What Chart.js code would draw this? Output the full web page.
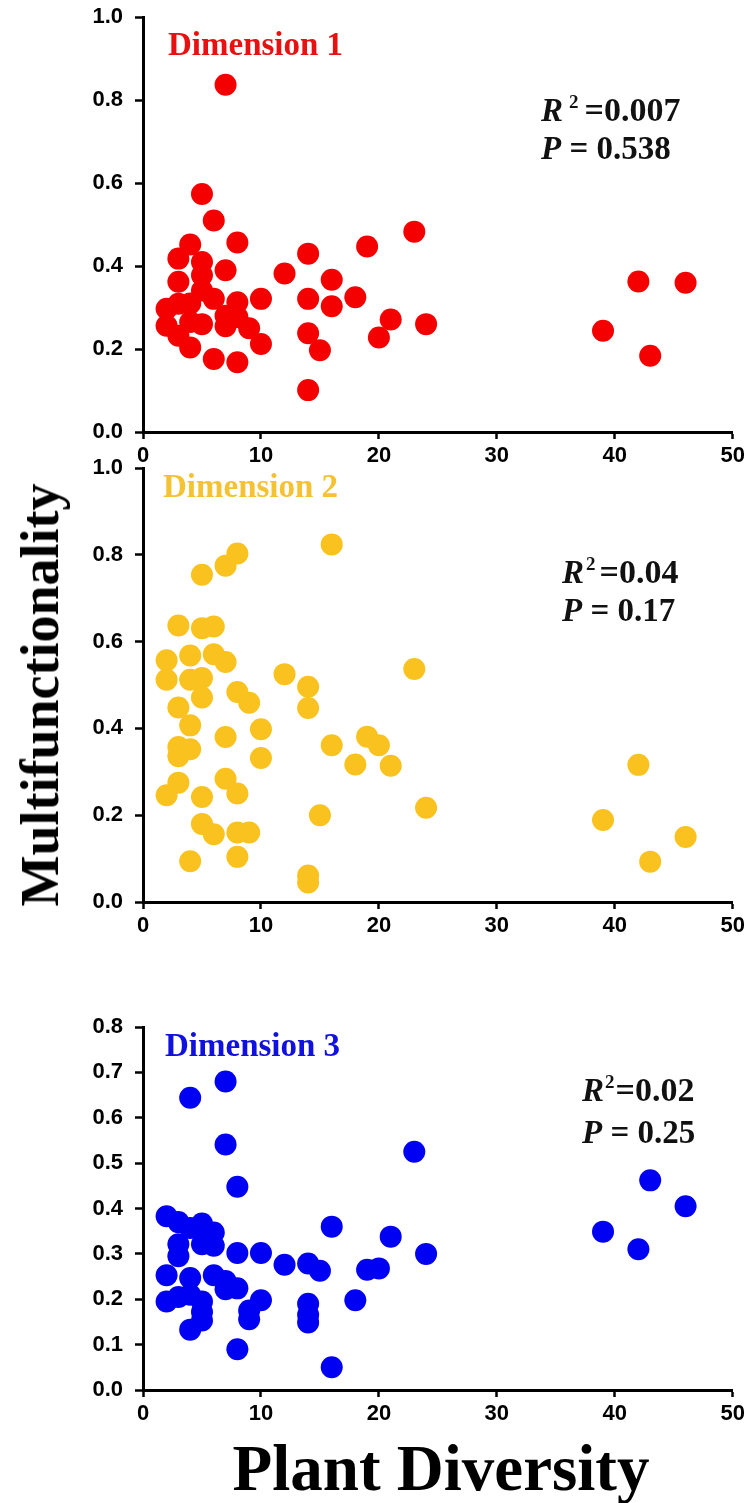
<!DOCTYPE html>
<html>
<head>
<meta charset="utf-8">
<script src="https://cdn.jsdelivr.net/npm/chart.js@4.4.0/dist/chart.umd.min.js"></script>
<style>
  body { margin: 0; background: #fff; }
  #figura { position: relative; width: 749px; height: 1503px; overflow: hidden; }
  canvas { position: absolute; left: 0; }
  #tituloY {
    position: absolute; left: 40px; top: 695px;
    transform: translate(-50%, -50%) rotate(-90deg);
    font: bold 54px "Liberation Serif", "Times New Roman", serif;
    white-space: nowrap; color: #000;
  }
  #tituloX {
    position: absolute; left: 441px; top: 1468px;
    transform: translate(-50%, -50%);
    font: bold 65px "Liberation Serif", "Times New Roman", serif;
    white-space: nowrap; color: #000;
  }
</style>
</head>
<body>
<div id="figura">
  <canvas id="grafico1" width="749" height="480" style="top:-8px"></canvas>
  <canvas id="grafico2" width="749" height="502" style="top:440px"></canvas>
  <canvas id="grafico3" width="749" height="440" style="top:990px"></canvas>
  <div id="tituloY">Multifunctionality</div>
  <div id="tituloX">Plant Diversity</div>
</div>
<script>
// Dimension 1
var dim1X = [2, 2, 3, 3, 3, 3, 4, 4, 4, 4, 5, 5, 5, 5, 5, 6, 6, 6, 7, 7, 7, 7, 8, 8, 8, 8, 9, 10, 10, 12, 14, 14, 14, 14, 15, 16, 16, 18, 19, 20, 21, 23, 24, 39, 42, 43, 46];
var dim1Y = [0.297, 0.256, 0.418, 0.362, 0.309, 0.232, 0.452, 0.31, 0.265, 0.204, 0.574, 0.41, 0.378, 0.341, 0.26, 0.51, 0.321, 0.176, 0.837, 0.39, 0.28, 0.255, 0.457, 0.313, 0.277, 0.168, 0.25, 0.321, 0.212, 0.382, 0.43, 0.321, 0.238, 0.101, 0.197, 0.367, 0.303, 0.325, 0.447, 0.228, 0.271, 0.483, 0.26, 0.244, 0.363, 0.184, 0.36];

// Dimension 2
var dim2X = [2, 2, 2, 3, 3, 3, 3, 3, 4, 4, 4, 4, 4, 5, 5, 5, 5, 5, 5, 6, 6, 6, 7, 7, 7, 7, 8, 8, 8, 8, 8, 9, 9, 10, 10, 12, 14, 14, 14, 14, 15, 16, 16, 18, 19, 20, 21, 23, 24, 39, 42, 43, 46];
var dim2Y = [0.557, 0.512, 0.246, 0.637, 0.448, 0.357, 0.336, 0.275, 0.568, 0.512, 0.407, 0.352, 0.094, 0.754, 0.631, 0.516, 0.471, 0.242, 0.18, 0.635, 0.571, 0.156, 0.775, 0.553, 0.38, 0.284, 0.803, 0.484, 0.25, 0.16, 0.104, 0.459, 0.16, 0.398, 0.332, 0.525, 0.496, 0.447, 0.061, 0.045, 0.2, 0.824, 0.361, 0.317, 0.381, 0.361, 0.314, 0.537, 0.217, 0.189, 0.316, 0.093, 0.15];

// Dimension 3
var dim3X = [2, 2, 2, 3, 3, 3, 3, 4, 4, 4, 4, 4, 5, 5, 5, 5, 5, 6, 6, 6, 7, 7, 7, 7, 8, 8, 8, 8, 9, 9, 10, 10, 12, 14, 14, 14, 14, 15, 16, 16, 18, 19, 20, 21, 23, 24, 39, 42, 43, 46];
var dim3Y = [0.383, 0.253, 0.195, 0.37, 0.321, 0.295, 0.205, 0.644, 0.357, 0.247, 0.21, 0.133, 0.367, 0.321, 0.195, 0.172, 0.153, 0.347, 0.318, 0.253, 0.68, 0.541, 0.24, 0.222, 0.448, 0.302, 0.224, 0.09, 0.175, 0.156, 0.302, 0.198, 0.276, 0.279, 0.19, 0.166, 0.149, 0.263, 0.36, 0.05, 0.198, 0.265, 0.268, 0.338, 0.525, 0.3, 0.349, 0.31, 0.462, 0.405];

var ticksX = [0, 10, 20, 30, 40, 50];
var ticksY12 = [0, 0.2, 0.4, 0.6, 0.8, 1.0];
var ticksY3 = [0, 0.1, 0.2, 0.3, 0.4, 0.5, 0.6, 0.7, 0.8];

var nomes = ["Dimension 1", "Dimension 2", "Dimension 3"];
var valoresR2 = ["0.007", "0.04", "0.02"];
var valoresP = ["0.538", "0.17", "0.25"];

var serifa = '"Liberation Serif", "Times New Roman", serif';

var pluginTextos = {
  id: "textos",
  afterDraw: function (chart, args, opts) {
    var ctx = chart.ctx;
    ctx.save();
    ctx.textBaseline = "alphabetic";
    ctx.textAlign = "left";

    ctx.font = "bold 33px " + serifa;
    ctx.fillStyle = opts.corNome;
    ctx.fillText(opts.nome, opts.nomeX, opts.nomeY);

    ctx.fillStyle = "#111";
    var x = opts.statX;
    ctx.font = "italic bold 33px " + serifa;
    ctx.fillText("R", x, opts.statY);
    x += ctx.measureText("R").width + opts.espacoR;
    ctx.font = "bold 19px " + serifa;
    ctx.fillText("2", x, opts.statY - 13);
    x += ctx.measureText("2").width + opts.espacoIgual;
    ctx.font = "bold 34px " + serifa;
    ctx.fillText("=" + opts.r2, x, opts.statY);

    ctx.font = "italic bold 33px " + serifa;
    ctx.fillText("P", opts.statX, opts.pY);
    var xp = opts.statX + ctx.measureText("P").width;
    ctx.font = "bold 33px " + serifa;
    ctx.fillText(" = " + opts.p, xp, opts.pY);
    ctx.restore();
  }
};

function montarPontos(xs, ys) {
  var pontos = [];
  for (var i = 0; i < xs.length; i++) {
    pontos.push({ x: xs[i], y: ys[i] });
  }
  return pontos;
}

function criarGrafico(idCanvas, xs, ys, cor, maxY, ticksY, topo, textos) {
  var ctx = document.getElementById(idCanvas).getContext("2d");

  return new Chart(ctx, {
    type: "scatter",
    data: {
      datasets: [
        {
          data: montarPontos(xs, ys),
          backgroundColor: cor,
          borderWidth: 0,
          pointRadius: 11,
          pointHoverRadius: 11,
        },
      ],
    },
    options: {
      responsive: false,
      animation: false,
      events: [],
      layout: {
        autoPadding: false,
        padding: { top: topo, right: 16, bottom: 0, left: 0 },
      },
      plugins: {
        legend: { display: false },
        tooltip: { enabled: false },
        textos: textos,
      },
      scales: {
        x: {
          type: "linear",
          min: 0,
          max: 50,
          afterBuildTicks: function (eixo) {
            eixo.ticks = ticksX.map(function (v) { return { value: v }; });
          },
          afterFit: function (eixo) {
            eixo.height = 40;
          },
          border: { display: true, color: "#000", width: 3 },
          grid: {
            display: true,
            drawOnChartArea: false,
            drawTicks: true,
            tickLength: 7,
            tickWidth: 2.5,
            tickColor: "#000",
          },
          ticks: {
            color: "#000",
            padding: 4,
            maxRotation: 0,
            font: { size: 22, weight: "bold", family: '"Liberation Sans", Arial, sans-serif' },
          },
        },
        y: {
          type: "linear",
          min: 0,
          max: maxY,
          afterBuildTicks: function (eixo) {
            eixo.ticks = ticksY.map(function (v) { return { value: v }; });
          },
          afterFit: function (eixo) {
            eixo.width = 143;
          },
          border: { display: true, color: "#000", width: 3 },
          grid: {
            display: true,
            drawOnChartArea: false,
            drawTicks: true,
            tickLength: 8,
            tickWidth: 2.5,
            tickColor: "#000",
          },
          ticks: {
            color: "#000",
            padding: 12,
            callback: function (valor) { return Number(valor).toFixed(1); },
            font: { size: 22, weight: "bold", family: '"Liberation Sans", Arial, sans-serif' },
          },
        },
      },
    },
    plugins: [pluginTextos],
  });
}

criarGrafico("grafico1", dim1X, dim1Y, "#f40000", 1.0, ticksY12, 25, {
  nome: nomes[0], corNome: "#e81010", nomeX: 168, nomeY: 63,
  r2: valoresR2[0], p: valoresP[0], statX: 541, statY: 129, pY: 167, espacoR: 6, espacoIgual: 6,
});

criarGrafico("grafico2", dim2X, dim2Y, "#f9c21f", 1.0, ticksY12, 28, {
  nome: nomes[1], corNome: "#f5c233", nomeX: 163, nomeY: 57,
  r2: valoresR2[1], p: valoresP[1], statX: 562, statY: 143, pY: 181, espacoR: 2, espacoIgual: 4,
});

criarGrafico("grafico3", dim3X, dim3Y, "#0000f2", 0.8, ticksY3, 37, {
  nome: nomes[2], corNome: "#1010e0", nomeX: 165, nomeY: 66,
  r2: valoresR2[2], p: valoresP[2], statX: 582, statY: 111, pY: 153, espacoR: 1, espacoIgual: 1,
});
</script>
</body>
</html>
